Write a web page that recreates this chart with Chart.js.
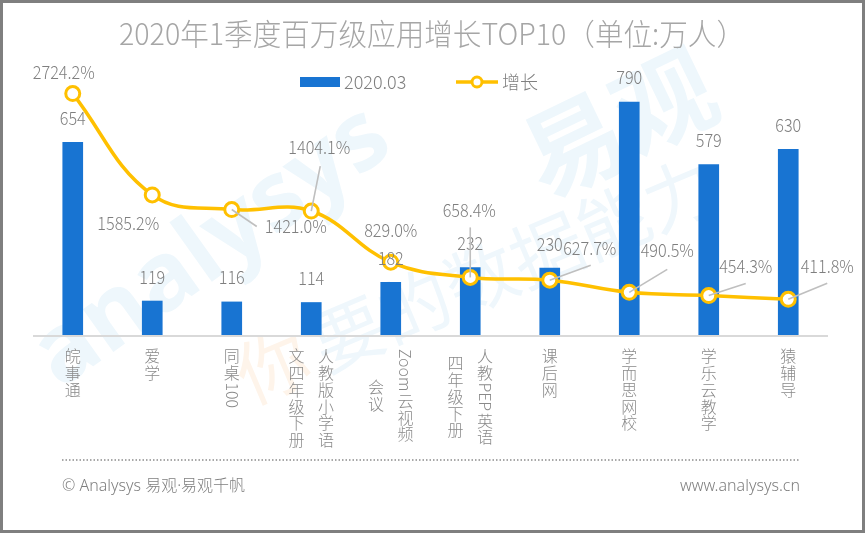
<!DOCTYPE html>
<html><head><meta charset="utf-8">
<script src="https://cdn.jsdelivr.net/npm/chart.js@4.4.1/dist/chart.umd.min.js"></script>
<style>html,body{margin:0;padding:0;background:#fff;}#wrap{position:relative;width:865px;height:533px;}</style>
</head><body><div id="wrap"><canvas id="c"></canvas></div>
<script>
const categories = ['皖事通','爱学','同桌100','人教版小学语文四年级下册','Zoom云视频会议','人教PEP英语四年级下册','课后网','学而思网校','学乐云教学','猿辅导'];
const users = [654,119,116,114,182,232,230,790,579,630];
const growth = [2724.2,1585.2,1421.0,1404.1,829.0,658.4,627.7,490.5,454.3,411.8];
const seriesNames = ['2020.03','增长'];
const titleText = '2020年1季度百万级应用增长TOP10（单位:万人）';
const footerLeft = '© Analysys 易观·易观千帆';
const footerRight = 'www.analysys.cn';

// label placement (layout only): text centre offset and leader end, relative to the point
const growthLabelPlacement = [
  {dx:-9,dy:-21},
  {dx:-24,dy:28},
  {dx:64,dy:17,lx:25,ly:17},
  {dx:8,dy:-64,lx:9,ly:-45},
  {dx:0,dy:-32},
  {dx:-1,dy:-67,lx:0,ly:-50},
  {dx:40,dy:-32,lx:41,ly:-15},
  {dx:38,dy:-42,lx:38,ly:-23},
  {dx:37,dy:-29,lx:37,ly:-12},
  {dx:39,dy:-33,lx:39,ly:-16}
];

const FONT = '"Noto Sans CJK SC","Noto Sans",sans-serif';
const BAR_COLOR = '#1874D2';
const LINE_COLOR = '#FFC000';
const TEXT_GREY = '#7f7f7f';

function txt(ctx, s, x, y, font, color, align, sx) {
  ctx.save();
  ctx.font = font; ctx.fillStyle = color;
  ctx.textBaseline = 'middle'; ctx.textAlign = align || 'center';
  ctx.translate(x, y); ctx.scale(sx || 1, 1);
  ctx.fillText(s, 0, 0);
  ctx.restore();
}

const deco = {
  id: 'deco',
  beforeDraw(chart) {
    const ctx = chart.ctx;
    ctx.save();
    ctx.fillStyle = '#fff';
    ctx.fillRect(0, 0, chart.width, chart.height);
    ctx.restore();
    // faint watermark
    ctx.save();
    ctx.textBaseline = 'alphabetic';
    ctx.fillStyle = '#eef7fc';
    ctx.translate(60, 390);
    ctx.rotate(-0.62);
    ctx.font = 'bold 96px "Open Sans",sans-serif';
    ctx.fillText('analysys', 0, 0);
    ctx.restore();
    ctx.save();
    ctx.fillStyle = '#eef7fc';
    ctx.translate(545, 200);
    ctx.rotate(-0.45);
    ctx.font = 'bold 100px ' + FONT;
    ctx.fillText('易观', 0, 0);
    ctx.restore();
    ctx.save();
    ctx.translate(250, 405);
    ctx.rotate(-0.40);
    ctx.font = '72px ' + FONT;
    ctx.fillStyle = '#fef4ea';
    ctx.fillText('你', 0, 0);
    ctx.fillStyle = '#eff7fc';
    ctx.fillText('要的数据能力', 82, 0);
    ctx.restore();
  },
  afterDatasetsDraw(chart) {
    const ctx = chart.ctx;
    const area = chart.chartArea;
    const xs = chart.scales.x;
    // axis line
    ctx.save();
    ctx.strokeStyle = '#d9d9d9'; ctx.lineWidth = 2;
    ctx.beginPath(); ctx.moveTo(area.left, area.bottom); ctx.lineTo(area.right, area.bottom); ctx.stroke();
    ctx.restore();

    // bar value labels
    const barMeta = chart.getDatasetMeta(1);
    barMeta.data.forEach((el, i) => {
      txt(ctx, String(users[i]), el.x, el.y - 24, '300 18px ' + FONT, TEXT_GREY, 'center', 0.9);
    });
    // growth labels + leaders
    const lineMeta = chart.getDatasetMeta(0);
    lineMeta.data.forEach((el, i) => {
      const p = growthLabelPlacement[i];
      if (p.lx !== undefined) {
        ctx.save();
        ctx.strokeStyle = '#bfbfbf'; ctx.lineWidth = 1.6;
        ctx.beginPath(); ctx.moveTo(el.x, el.y); ctx.lineTo(el.x + p.lx, el.y + p.ly); ctx.stroke();
        ctx.restore();
      }
      txt(ctx, growth[i].toFixed(1) + '%', el.x + p.dx, el.y + p.dy, '300 18px ' + FONT, TEXT_GREY, 'center', 0.9);
    });

    // vertical category labels
    const fs = 16, lh = 16.7, maxH = 6 * lh + 1, colGap = 29.5, top = 348;
    ctx.save();
    ctx.font = '300 ' + fs + 'px ' + FONT;
    ctx.fillStyle = '#8a8a8a';
    categories.forEach((label, i) => {
      const tokens = label.match(/[A-Za-z0-9]+|./g);
      const cols = [[]]; const heights = [0];
      tokens.forEach(t => {
        const latin = /^[A-Za-z0-9]+$/.test(t);
        const h = latin ? ctx.measureText(t).width + 2 : lh;
        let c = cols.length - 1;
        if (heights[c] + h > maxH && cols[c].length) { cols.push([]); heights.push(0); c++; }
        cols[c].push({t, latin, h}); heights[c] += h;
      });
      const cx = xs.getPixelForValue(i);
      const tallest = Math.max(...heights);
      cols.forEach((col, ci) => {
        const x = cx + (cols.length - 1) / 2 * colGap - ci * colGap;
        let y = top + (tallest - heights[ci]) / 2;
        col.forEach(tok => {
          if (tok.latin) {
            ctx.save();
            ctx.translate(x, y + 1);
            ctx.rotate(Math.PI / 2);
            ctx.textAlign = 'left'; ctx.textBaseline = 'middle';
            ctx.fillText(tok.t, 0, 0);
            ctx.restore();
          } else {
            ctx.textAlign = 'center'; ctx.textBaseline = 'middle';
            ctx.fillText(tok.t, x, y + lh / 2);
          }
          y += tok.h;
        });
      });
    });
    ctx.restore();
  },
  afterDraw(chart) {
    const ctx = chart.ctx;
    // title
    ctx.save();
    ctx.font = '300 30px ' + FONT;
    const tw = ctx.measureText(titleText).width;
    ctx.restore();
    txt(ctx, titleText, 432, 34, '300 30px ' + FONT, '#a6a6a6', 'center', Math.min(1, 626 / tw));

    // legend
    const ds = chart.data.datasets;
    ctx.save();
    ctx.fillStyle = ds[1].backgroundColor;
    ctx.fillRect(300, 77, 40, 10);
    ctx.restore();
    txt(ctx, ds[1].label, 344, 82, '300 18px ' + FONT, TEXT_GREY, 'left', 1);
    ctx.save();
    ctx.strokeStyle = ds[0].borderColor; ctx.lineWidth = 3.5;
    ctx.beginPath(); ctx.moveTo(456, 82); ctx.lineTo(498, 82); ctx.stroke();
    ctx.beginPath(); ctx.arc(477, 82, 5, 0, Math.PI * 2);
    ctx.fillStyle = '#fff'; ctx.fill(); ctx.lineWidth = 3; ctx.stroke();
    ctx.restore();
    txt(ctx, ds[0].label, 502, 82, '300 18px ' + FONT, TEXT_GREY, 'left', 1);

    // dotted separator
    ctx.save();
    ctx.strokeStyle = '#8c8c8c'; ctx.lineWidth = 1.5; ctx.setLineDash([1.5, 2]);
    ctx.beginPath(); ctx.moveTo(62, 460); ctx.lineTo(800, 460); ctx.stroke();
    ctx.restore();
    // footer
    const FFONT = '"Noto Sans","Noto Sans CJK SC",sans-serif';
    txt(ctx, footerLeft, 62, 486, '300 16px ' + FFONT, TEXT_GREY, 'left', 1);
    txt(ctx, footerRight, 800, 486, '300 16px ' + FFONT, TEXT_GREY, 'right', 1);
    // frame
    ctx.save();
    ctx.strokeStyle = '#7f7f7f'; ctx.lineWidth = 3;
    ctx.strokeRect(1.5, 1.5, chart.width - 3, chart.height - 3);
    ctx.restore();
  }
};

new Chart(document.getElementById('c'), {
  data: {
    labels: categories,
    datasets: [
      {type: 'line', label: seriesNames[1], data: growth, yAxisID: 'y2',
       borderColor: LINE_COLOR, borderWidth: 3.5, tension: 0.4,
       pointRadius: 7, pointBackgroundColor: '#fff', pointBorderColor: LINE_COLOR, pointBorderWidth: 3, order: 1},
      {type: 'bar', label: seriesNames[0], data: users, yAxisID: 'y',
       backgroundColor: BAR_COLOR, barPercentage: 0.26, categoryPercentage: 1, order: 2}
    ]
  },
  options: {
    responsive: true, maintainAspectRatio: false, animation: false, events: [],
    layout: {padding: {left: 33, right: 37, top: 69, bottom: 197}},
    plugins: {legend: {display: false}, tooltip: {enabled: false}},
    scales: {
      x: {display: false},
      y: {display: false, min: 0, max: 900},
      y2: {display: false, min: 0, max: 3000, position: 'right'}
    }
  },
  plugins: [deco]
});
</script></body></html>
